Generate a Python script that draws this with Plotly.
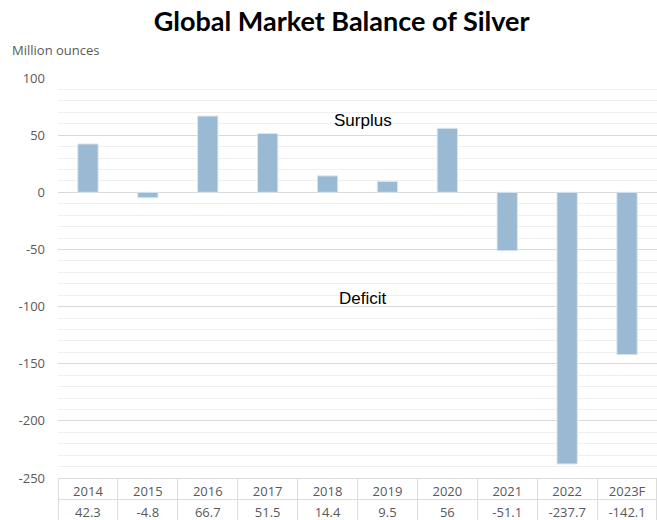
import plotly.graph_objects as go

# Silver market balance, million ounces
years = ["2014", "2015", "2016", "2017", "2018", "2019", "2020", "2021", "2022", "2023F"]
balance = [42.3, -4.8, 66.7, 51.5, 14.4, 9.5, 56, -51.1, -237.7, -142.1]
value_labels = ["42.3", "-4.8", "66.7", "51.5", "14.4", "9.5", "56", "-51.1", "-237.7", "-142.1"]
y_ticks = [100, 50, 0, -50, -100, -150, -200, -250]
y_tick_labels = ["100", "50", "0", "-50", "-100", "-150", "-200", "-250"]

W, H = 657, 520
top, bottom_plot, left = 78, 478, 58
plot_h = H - top
table_frac = (H - bottom_plot) / plot_h

txt = "#595959"
grid_major = "#D9D9D9"
grid_minor = "#EFEFEF"
font_fam = "Open Sans, Liberation Sans, sans-serif"

fig = go.Figure()

fig.add_trace(go.Bar(
    x=list(range(len(years))),
    y=balance,
    width=0.34,
    marker=dict(color="#9AB9D3", line=dict(color="#DCE7F0", width=1)),
    hoverinfo="skip",
    showlegend=False,
))

# data table under the bars: years and values
fig.add_trace(go.Table(
    domain=dict(x=[0, 1], y=[0, table_frac]),
    columnwidth=[1] * len(years),
    header=dict(
        values=years,
        fill_color="white",
        line=dict(color="#DCDCDC", width=1),
        align="center",
        height=21,
        font=dict(family=font_fam, size=13, color=txt),
    ),
    cells=dict(
        values=[[v] for v in value_labels],
        fill_color="white",
        line=dict(color="#DCDCDC", width=1),
        align="center",
        height=21,
        font=dict(family=font_fam, size=13, color=txt),
    ),
))

fig.update_layout(
    width=W,
    height=H,
    margin=dict(l=left, r=0, t=top, b=0, autoexpand=False),
    paper_bgcolor="white",
    plot_bgcolor="white",
    title=dict(
        text="<b>Global Market Balance of Silver</b>",
        x=0.52, xanchor="center",
        y=1 - 22 / H, yanchor="middle",
        font=dict(family="Lato, sans-serif", size=27, color="black"),
    ),
    xaxis=dict(
        range=[-0.5, len(years) - 0.5],
        showticklabels=False,
        showgrid=False,
        zeroline=False,
        automargin=False,
        fixedrange=True,
    ),
    yaxis=dict(
        domain=[table_frac, 1],
        range=[-250, 100],
        tickvals=y_ticks,
        ticktext=y_tick_labels,
        ticklabelstandoff=12,
        automargin=False,
        tickfont=dict(family=font_fam, size=13, color=txt),
        showgrid=True,
        gridcolor=grid_major,
        gridwidth=1,
        zeroline=True,
        zerolinecolor=grid_major,
        zerolinewidth=1,
        minor=dict(dtick=10, showgrid=True, gridcolor=grid_minor, gridwidth=1),
        showline=False,
    ),
    annotations=[
        dict(text="Million ounces", xref="paper", yref="paper",
             x=-left / (W - left) + 10 / (W - left), xanchor="left",
             y=1 + 28 / plot_h, yanchor="middle", showarrow=False,
             font=dict(family=font_fam, size=13, color=txt)),
        dict(text="Surplus", xref="x", yref="y", x=4.6, y=63,
             showarrow=False, font=dict(family="Liberation Sans, Arial, sans-serif", size=17, color="black")),
        dict(text="Deficit", xref="x", yref="y", x=4.6, y=-93,
             showarrow=False, font=dict(family="Liberation Sans, Arial, sans-serif", size=17, color="black")),
    ],
)

fig.write_html("out.html")
